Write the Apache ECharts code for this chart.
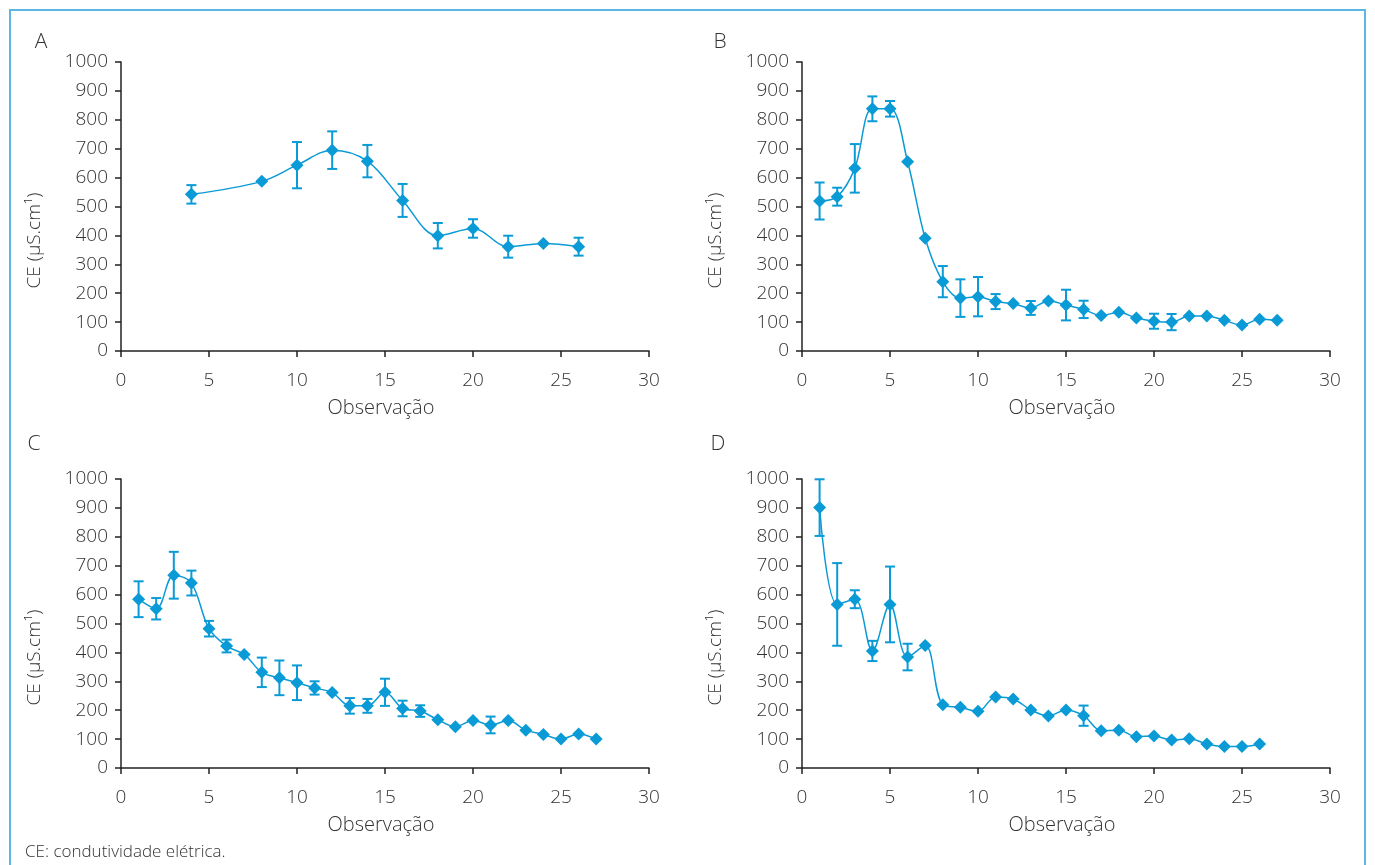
<!DOCTYPE html>
<html><head><meta charset="utf-8">
<script src="https://cdn.jsdelivr.net/npm/echarts@6/dist/echarts.min.js"></script>
<style>
html,body{margin:0;padding:0;background:#fff;}
#frame{position:absolute;left:9px;top:9px;width:1357px;height:870px;border:2px solid #5ab8e3;box-sizing:border-box;}
#c{position:absolute;left:0;top:0;width:1375px;height:865px;}
</style></head>
<body>
<div id="frame"></div>
<div id="c"></div>
<script>
// ---- data ----
const xA = [4, 8, 10, 12, 14, 16, 18, 20, 22, 24, 26];
const yA = [542, 587, 643, 695, 657, 521, 399, 424, 361, 372, 361];
const eA = [32, 0, 80, 65, 56, 57, 44, 32, 38, 0, 31];

const xB = [1,2,3,4,5,6,7,8,9,10,11,12,13,14,15,16,17,18,19,20,21,22,23,24,25,26,27];
const yB = [519,534,632,838,838,655,390,240,183,188,171,164,149,173,159,144,123,134,114,103,100,121,121,106,90,110,106];
const eB = [64,31,84,43,27,0,0,54,65,68,26,0,24,0,53,30,0,0,0,26,28,0,0,0,0,0,0];

const xC = [1,2,3,4,5,6,7,8,9,10,11,12,13,14,15,16,17,18,19,20,21,22,23,24,25,26,27];
const yC = [584,551,667,640,482,422,393,331,312,295,277,261,215,215,262,206,197,167,143,164,149,164,131,116,100,118,100];
const eC = [62,37,81,43,27,22,0,51,60,60,23,0,27,24,47,27,20,0,0,0,29,0,0,0,0,0,0];

const xD = [1,2,3,4,5,6,7,8,9,10,11,12,13,14,15,16,17,18,19,20,21,22,23,24,25,26];
const yD = [901,566,584,405,566,384,424,219,210,196,246,239,201,180,201,181,129,131,108,111,97,101,83,74,74,83];
const eD = [98,143,31,35,131,46,0,0,0,0,0,0,0,0,0,35,0,0,0,0,0,0,0,0,0,0];

const panelLabels = ['A', 'B', 'C', 'D'];
const yName = 'CE (µS.cm¹)';
const xName = 'Observação';
const footnote = 'CE: condutividade elétrica.';

// ---- styling ----
const BLUE = '#0a9bd6';
const AX = '#222';
const TXT = '#333';
const FONT = '"Open Sans", "Noto Sans", sans-serif';

const panels = [
  {x: xA, y: yA, e: eA, left: 121, top: 62},
  {x: xB, y: yB, e: eB, left: 802, top: 62},
  {x: xC, y: yC, e: eC, left: 121, top: 479},
  {x: xD, y: yD, e: eD, left: 802, top: 479}
];
const labelPos = [[41, 42], [720, 42], [34, 444], [718, 444]];
const GW = 528, GH = 289;

const grid = [], xAxis = [], yAxis = [], series = [], graphic = [];
panels.forEach((p, i) => {
  grid.push({left: p.left, top: p.top, width: GW, height: GH, containLabel: false});
  xAxis.push({
    type: 'value', gridIndex: i, min: 0, max: 30, interval: 5,
    axisLine: {show: true, lineStyle: {color: AX, width: 1.5}},
    axisTick: {show: true, length: 6, lineStyle: {color: AX, width: 1.5}},
    axisLabel: {color: TXT, fontSize: 19, fontFamily: FONT, fontWeight: 300, margin: 20,
      formatter: v => String(v)},
    splitLine: {show: false}
  });
  yAxis.push({
    type: 'value', gridIndex: i, min: 0, max: 1000, interval: 100,
    axisLine: {show: true, lineStyle: {color: AX, width: 1.5}},
    axisTick: {show: true, length: 6, lineStyle: {color: AX, width: 1.5}},
    axisLabel: {color: TXT, fontSize: 19, fontFamily: FONT, fontWeight: 300, margin: 13,
      formatter: v => String(v)},
    splitLine: {show: false}
  });
  const pts = p.x.map((xv, k) => [xv, p.y[k], p.e[k]]);
  series.push({
    type: 'custom', xAxisIndex: i, yAxisIndex: i, z: 1,
    data: pts.filter(d => d[2] > 0),
    renderItem: function (params, api) {
      const xv = api.value(0), yv = api.value(1), ev = api.value(2);
      const top = api.coord([xv, yv + ev]);
      const bot = api.coord([xv, yv - ev]);
      const hw = 5;
      const style = {stroke: BLUE, lineWidth: 2};
      return {type: 'group', children: [
        {type: 'line', shape: {x1: top[0], y1: top[1], x2: bot[0], y2: bot[1]}, style: style},
        {type: 'line', shape: {x1: top[0] - hw, y1: top[1], x2: top[0] + hw, y2: top[1]}, style: style},
        {type: 'line', shape: {x1: bot[0] - hw, y1: bot[1], x2: bot[0] + hw, y2: bot[1]}, style: style}
      ]};
    },
    silent: true, animation: false
  });
  series.push({
    type: 'line', xAxisIndex: i, yAxisIndex: i, z: 3,
    data: pts.map(d => [d[0], d[1]]),
    smooth: 0.35,
    symbol: 'diamond', symbolSize: 13,
    lineStyle: {color: BLUE, width: 1.5},
    itemStyle: {color: BLUE},
    animation: false
  });
  graphic.push({
    type: 'text', x: p.left - 86, y: p.top + GH / 2 + 34, rotation: Math.PI / 2,
    style: {text: yName, fill: TXT, font: '300 19px ' + FONT, textAlign: 'center', textVerticalAlign: 'middle'}
  });
  graphic.push({
    type: 'text', x: p.left + GW / 2 - 4, y: p.top + GH + 57,
    style: {text: xName, fill: TXT, font: '300 20px ' + FONT, textAlign: 'center', textVerticalAlign: 'middle'}
  });
  graphic.push({
    type: 'text', x: labelPos[i][0], y: labelPos[i][1],
    style: {text: panelLabels[i], fill: TXT, font: '300 21px ' + FONT, textAlign: 'center', textVerticalAlign: 'middle'}
  });
});
graphic.push({type: 'text', x: 25, y: 852, style: {text: footnote, fill: TXT, font: '300 17px ' + FONT, textAlign: 'left', textVerticalAlign: 'middle'}});

const chart = echarts.init(document.getElementById('c'), null, {renderer: 'canvas'});
chart.setOption({
  backgroundColor: 'transparent',
  animation: false,
  grid, xAxis, yAxis, series, graphic
});
</script>
</body></html>
